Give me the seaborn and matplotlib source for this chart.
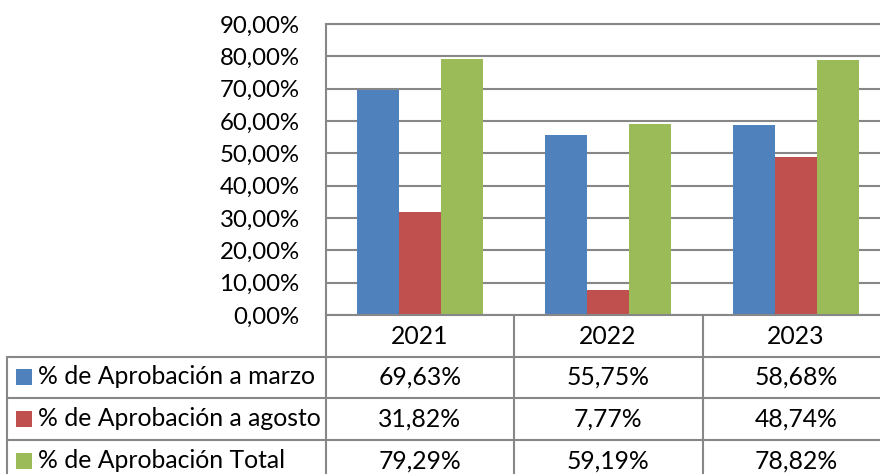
import matplotlib
matplotlib.use("Agg")
import matplotlib.pyplot as plt
import seaborn as sns
import pandas as pd
from matplotlib.lines import Line2D
from matplotlib.ticker import FuncFormatter

years = ["2021", "2022", "2023"]
series_names = ["% de Aprobación a marzo", "% de Aprobación a agosto", "% de Aprobación Total"]
marzo = [69.63, 55.75, 58.68]
agosto = [31.82, 7.77, 48.74]
total = [79.29, 59.19, 78.82]
colors = ["#4F81BD", "#C0504D", "#9BBB59"]
yticks = [0, 10, 20, 30, 40, 50, 60, 70, 80, 90]

sns.set_theme(style="white")
plt.rcParams["font.family"] = ["Lato", "DejaVu Sans"]

rows = []
for name, vals in zip(series_names, [marzo, agosto, total]):
    for y, v in zip(years, vals):
        rows.append({"year": y, "serie": name, "value": v})
df = pd.DataFrame(rows)

W, H = 880, 474
fig = plt.figure(figsize=(W / 100, H / 100), dpi=100)
grid_col = "#878787"

# plot area in pixels: left 326, top 24, bottom 315, right 880 (cut)
ax = fig.add_axes([326 / W, (H - 315) / H, (W - 326) / W, (315 - 24) / H])
sns.barplot(data=df, x="year", y="value", hue="serie", order=years,
            hue_order=series_names, palette=colors, width=0.67, gap=0,
            saturation=1, edgecolor="none", linewidth=0, legend=False, ax=ax)
ax.set_xlim(-0.5, -0.5 + (W - 326) / 188)
ax.set_ylim(0, 90)
ax.set_yticks(yticks)
ax.yaxis.set_major_formatter(FuncFormatter(lambda v, p: f"{v:.2f}%".replace(".", ",")))
ax.set_xticks([])
ax.set_xlabel("")
ax.set_ylabel("")
ax.grid(axis="y", color=grid_col, linewidth=1.5)
ax.set_axisbelow(True)
for s in ["left", "top", "bottom"]:
    ax.spines[s].set_color(grid_col)
    ax.spines[s].set_linewidth(1.5)
ax.spines["right"].set_visible(False)
ax.tick_params(axis="y", length=0, pad=19, labelsize=17.3, colors="black")

# table overlay in pixel coordinates
ov = fig.add_axes([0, 0, 1, 1])
ov.set_xlim(0, W)
ov.set_ylim(H, 0)
ov.axis("off")
lw = 1.5
for x in [326, 514, 703]:
    ov.add_line(Line2D([x, x], [315, H], color=grid_col, linewidth=lw))
ov.add_line(Line2D([7, 7], [357, H], color=grid_col, linewidth=lw))
for yv in [357, 398, 440]:
    ov.add_line(Line2D([7, W], [yv, yv], color=grid_col, linewidth=lw))

col_centers = [420, 608, 796]
fs = 17.8
for cx, yr in zip(col_centers, years):
    ov.text(cx, 337, yr, ha="center", va="center", fontsize=fs, color="black")
row_centers = [377, 419, 461]
for rc, name, vals, c in zip(row_centers, series_names, [marzo, agosto, total], colors):
    ov.add_patch(plt.Rectangle((16, rc - 8), 16, 16, color=c, linewidth=0))
    ov.text(38, rc, name, ha="left", va="center", fontsize=fs, color="black")
    for cx, v in zip(col_centers, vals):
        ov.text(cx, rc, f"{v:.2f}%".replace(".", ","), ha="center", va="center",
                fontsize=fs, color="black")

fig.savefig("out.png", dpi=100)
